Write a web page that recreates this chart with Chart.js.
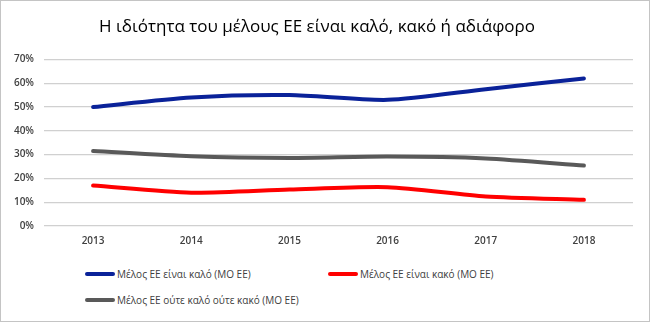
<!DOCTYPE html>
<html>
<head>
<meta charset="utf-8">
<script src="https://cdn.jsdelivr.net/npm/chart.js@4"></script>
<style>
  html, body { margin: 0; padding: 0; background: #fff; }
  #wrap { position: relative; width: 650px; height: 322px; box-sizing: border-box; border: 1px solid #c4c4c4; background: #fff; }
  #myChart { position: absolute; left: 0; top: 0; }
  .leg { position: absolute; font-family: "Open Sans", "Liberation Sans", sans-serif; font-size: 10px; color: #404040; white-space: nowrap; line-height: 12px; }
  .leg span.sw { display: inline-block; width: 30px; height: 4px; border-radius: 2px; vertical-align: middle; margin-right: 2px; position: relative; top: -1px; }
</style>
</head>
<body>
<div id="wrap">
  <canvas id="myChart" width="648" height="258"></canvas>
  <div id="legend"></div>
</div>
<script>
var years = ["2013", "2014", "2015", "2016", "2017", "2018"]
var good = [50, 54, 55, 53, 57.5, 62]
var bad = [17, 14, 15.3, 16.3, 12.4, 11]
var neither = [31.5, 29.3, 28.6, 29.2, 28.4, 25.4]
var seriesNames = ["Μέλος ΕΕ είναι καλό (ΜΟ ΕΕ)", "Μέλος ΕΕ είναι κακό (ΜΟ ΕΕ)", "Μέλος ΕΕ ούτε καλό ούτε κακό (ΜΟ ΕΕ)"]
var seriesColors = ["#0a2299", "#ff0000", "#595959"]
var yTicks = [0, 10, 20, 30, 40, 50, 60, 70]

// legend spots
var legendPos = [[84, 267], [327, 267], [84, 293]]

document.addEventListener('DOMContentLoaded', function() {
  var data = [good, bad, neither]
  var ctx = document.getElementById("myChart").getContext('2d')
  var myChart = new Chart(ctx, {
    type: 'line',
    data: {
      labels: years,
      datasets: data.map(function(d, i) {
        return {
          label: seriesNames[i],
          data: d,
          borderColor: seriesColors[i],
          backgroundColor: seriesColors[i],
          borderWidth: 4,
          pointRadius: 0,
          tension: 0.25,
          borderCapStyle: 'round'
        }
      })
    },
    options: {
      responsive: false,
      animation: false,
      layout: { padding: { left: 0, right: 16, bottom: 0 } },
      plugins: {
        legend: { display: false },
        tooltip: { enabled: false },
        title: {
          display: true,
          text: "Η ιδιότητα του μέλους ΕΕ είναι καλό, κακό ή αδιάφορο",
          color: '#000',
          font: { family: "'Open Sans', 'Liberation Sans', sans-serif", size: 17, weight: 'normal' },
          padding: { top: 16, bottom: 22 }
        }
      },
      scales: {
        x: {
          offset: true,
          grid: { display: false, drawTicks: false },
          border: { display: false },
          ticks: { color: '#404040', padding: 9, font: { family: "'Open Sans', 'Liberation Sans', sans-serif", size: 10, weight: '600' } },
          afterFit: function(s) { s.height = 33 }
        },
        y: {
          min: 0, max: 70,
          afterBuildTicks: function(s) { s.ticks = yTicks.map(function(v) { return { value: v } }) },
          grid: { color: '#d0d0d0', lineWidth: 1.2, drawTicks: false },
          border: { display: false },
          ticks: {
            color: '#404040', padding: 10,
            font: { family: "'Open Sans', 'Liberation Sans', sans-serif", size: 10, weight: '600' },
            callback: function(v) { return v + '%' }
          },
          afterFit: function(s) { s.width = 43 }
        }
      }
    }
  })

  var leg = document.getElementById('legend')
  seriesNames.forEach(function(n, i) {
    var el = document.createElement('div')
    el.className = 'leg'
    el.style.left = legendPos[i][0] + 'px'
    el.style.top = legendPos[i][1] + 'px'
    el.innerHTML = '<span class="sw" style="background:' + seriesColors[i] + '"></span>' + n
    leg.appendChild(el)
  })
})
</script>
</body>
</html>
